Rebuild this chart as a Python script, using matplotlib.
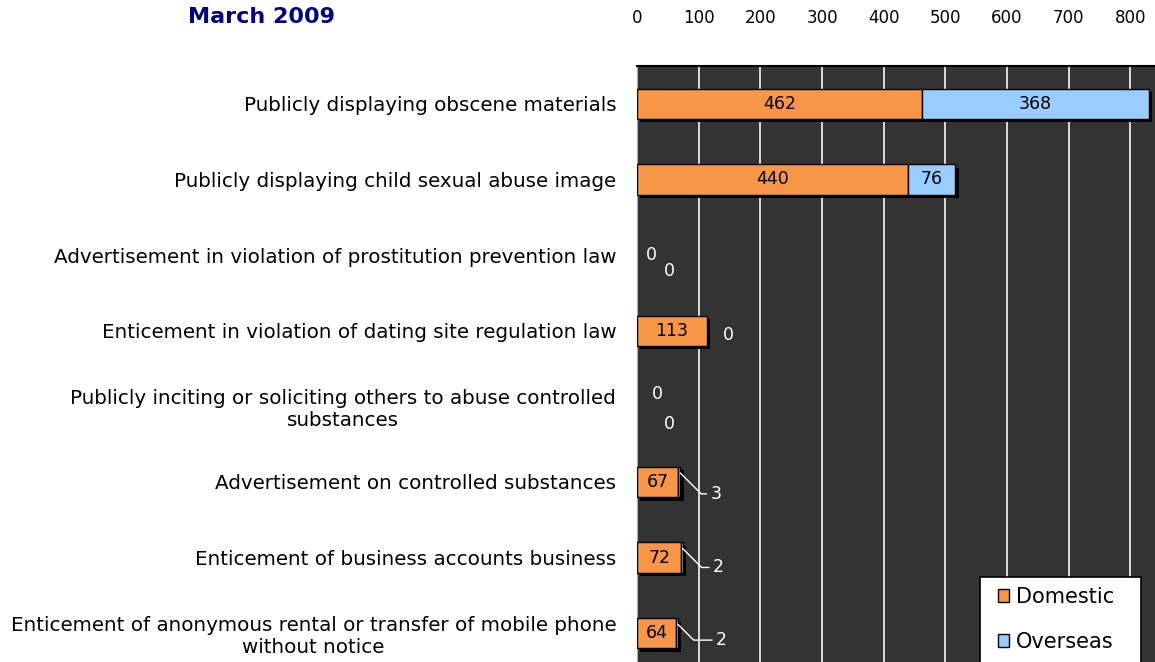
import numpy as np
import matplotlib
matplotlib.use("Agg")
import matplotlib.pyplot as plt
import matplotlib.patheffects as pe
from matplotlib.patches import Rectangle

# data
categories = [
    "Publicly displaying obscene materials",
    "Publicly displaying child sexual abuse image",
    "Advertisement in violation of prostitution prevention law",
    "Enticement in violation of dating site regulation law",
    "Publicly inciting or soliciting others to abuse controlled\nsubstances",
    "Advertisement on controlled substances",
    "Enticement of business accounts business",
    "Enticement of anonymous rental or transfer of mobile phone\nwithout notice",
]
domestic = [462, 440, 0, 113, 0, 67, 72, 64]
overseas = [368, 76, 0, 0, 0, 3, 2, 2]
ticks = [0, 100, 200, 300, 400, 500, 600, 700, 800]

orange = "#F79646"
blue = "#99CCFF"
bg = "#333333"

# label offsets (pixels) for labels drawn outside the bars
dom_offsets = {2: (14, 0), 4: (20, 12)}
ovs_offsets = {2: (32, -16), 3: (22, -4), 4: (32, -18), 5: (36, -21), 6: (36, -19), 7: (44, -16)}
leader_rows = [5, 6, 7]

fig = plt.figure(figsize=(11.55, 6.62), dpi=100)
ax = fig.add_axes([637 / 1155, -9 / 662, 1 - 637 / 1155, (671 - 66) / 662])
ax.set_facecolor(bg)

y = np.arange(len(categories))
shadow = [pe.SimplePatchShadow(offset=(2.5, -2.5), shadow_rgbFace="black", alpha=1), pe.Normal()]

b1 = ax.barh(y, domestic, height=0.4, color=orange, edgecolor="black", lw=1,
             label="Domestic", zorder=3)
b2 = ax.barh(y, overseas, left=domestic, height=0.4, color=blue, edgecolor="black",
             lw=1, label="Overseas", zorder=3)
for p in list(b1) + list(b2):
    if p.get_width() == 0:
        p.set_visible(False)
    else:
        p.set_path_effects(shadow)

ax.set_xlim(0, 840)
ax.set_ylim(len(categories) - 0.5, -0.5)

for i, (d, o) in enumerate(zip(domestic, overseas)):
    if d > 0:
        ax.text(d / 2, i, str(d), ha="center", va="center", fontsize=12.5,
                color="black", zorder=5)
    else:
        dx, dy = dom_offsets[i]
        ax.annotate(str(d), xy=(0, i), xytext=(dx, dy), textcoords="offset pixels",
                    ha="center", va="center", fontsize=12.5, color="white", zorder=5)
    if o >= 50:
        ax.text(d + o / 2, i, str(o), ha="center", va="center", fontsize=12.5,
                color="black", zorder=5)
    else:
        dx, dy = ovs_offsets[i]
        if i in leader_rows:
            ax.annotate(str(o), xy=(d + o, i - 0.12), xytext=(dx, dy),
                        textcoords="offset pixels", ha="center", va="center",
                        fontsize=12.5, color="white", zorder=5,
                        arrowprops=dict(arrowstyle="-", color="white", lw=1,
                                        shrinkA=1, shrinkB=0,
                                        relpos=(0, 0.5),
                                        connectionstyle="angle,angleA=0,angleB=-45,rad=0"))
        else:
            ax.annotate(str(o), xy=(d + o, i), xytext=(dx, dy),
                        textcoords="offset pixels", ha="center", va="center",
                        fontsize=12.5, color="white", zorder=5)

ax.set_yticks(y)
ax.set_yticklabels(categories, fontsize=14.3, multialignment="center")
ax.tick_params(axis="y", length=0, pad=15)

ax.xaxis.tick_top()
ax.set_xticks(ticks)
ax.set_xticklabels([str(t) for t in ticks], fontsize=12)
ax.tick_params(axis="x", length=0, pad=28)
for t in ticks[1:]:
    ax.axvline(t, color="#e8e8e8", lw=1.3, zorder=1)

for s in ["right", "bottom"]:
    ax.spines[s].set_visible(False)
ax.spines["top"].set_color("black")
ax.spines["top"].set_linewidth(1.5)
ax.spines["left"].set_color("#aaaaaa")

# legend box (runs off the bottom edge like the reference)
box = Rectangle((980 / 1155, -0.1), (1141 - 980) / 1155, 0.1 + 1 - 577 / 662,
                transform=fig.transFigure, facecolor="white", edgecolor="black",
                lw=1.2, zorder=4)
fig.add_artist(box)
leg = fig.legend(handles=[b1, b2], labels=["Domestic", "Overseas"],
                 loc="upper left", bbox_to_anchor=(998 / 1155, 1 - 587 / 662),
                 fontsize=15, frameon=False, borderaxespad=0, borderpad=0,
                 handlelength=0.55, handleheight=0.55, handletextpad=0.3,
                 labelspacing=1.2)
leg.set_zorder(5)
for h in leg.legend_handles:
    h.set_path_effects([])

fig.text(261 / 1155, 1 - 17 / 662, "March 2009", ha="center", va="center",
         fontsize=16, fontweight="bold", color="#000080")

fig.savefig("out.png", dpi=100)
